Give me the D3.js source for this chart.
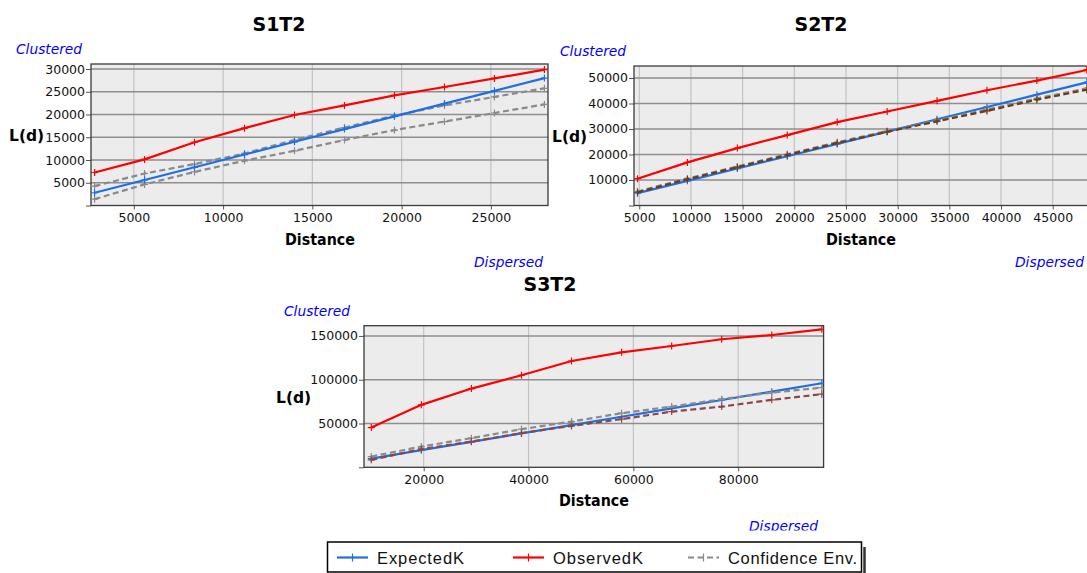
<!DOCTYPE html>
<html>
<head>
<meta charset="utf-8">
<script src="https://cdn.jsdelivr.net/npm/d3@7"></script>
<style>
  body { margin: 0; background: #fff; }
  svg { display: block; font-family: "DejaVu Sans", Verdana, sans-serif; }
</style>
</head>
<body>
<svg id="chart" width="1087" height="573"></svg>
<script>
// S1T2
const s1Distance = [2800, 5600, 8400, 11200, 14000, 16800, 19600, 22400, 25200, 28000];
const s1Expected = [2800, 5600, 8400, 11200, 14000, 16800, 19600, 22400, 25200, 28000];
const s1Observed = [7250, 10130, 13900, 17000, 19900, 22000, 24200, 26040, 27930, 29880];
const s1Upper = [4270, 7030, 9110, 11440, 14400, 17140, 19750, 22000, 23870, 25760];
const s1Lower = [1390, 4640, 7380, 9850, 12020, 14400, 16580, 18450, 20330, 22220];
const s1XTicks = [5000, 10000, 15000, 20000, 25000];
const s1YTicks = [0, 5000, 10000, 15000, 20000, 25000, 30000];

// S2T2
const s2Distance = [4830, 9660, 14490, 19320, 24150, 28980, 33810, 38640, 43470, 48300];
const s2Expected = [4830, 9660, 14490, 19320, 24150, 28980, 33810, 38640, 43470, 48300];
const s2Observed = [10520, 16900, 22500, 27600, 32700, 36840, 41030, 45200, 48970, 53150];
const s2Upper = [5500, 10600, 15300, 20100, 24800, 29200, 33400, 37600, 42000, 45900];
const s2Lower = [5200, 10300, 15000, 19800, 24500, 28900, 33000, 37100, 41500, 45400];
const s2XTicks = [5000, 10000, 15000, 20000, 25000, 30000, 35000, 40000, 45000];
const s2YTicks = [0, 10000, 20000, 30000, 40000, 50000];

// S3T2
const s3Distance = [10000, 19550, 29100, 38650, 48200, 57750, 67300, 76850, 86400, 95950];
const s3Expected = [10000, 19550, 29100, 38650, 48200, 57750, 67300, 76850, 86400, 95950];
const s3Observed = [45400, 71300, 89900, 105100, 121400, 131300, 138500, 146200, 151100, 157600];
const s3Upper = [12300, 23700, 33300, 43500, 52200, 61800, 69300, 77800, 85300, 91000];
const s3Lower = [8550, 20700, 29400, 39000, 47300, 55000, 63600, 69300, 77000, 83500];
const s3XTicks = [20000, 40000, 60000, 80000];
const s3YTicks = [0, 50000, 100000, 150000];

const legendLabels = ["ExpectedK", "ObservedK", "Confidence Env."];

const BLUE = "#1e6ee6", RED = "#ff0000", GRAY = "#8a8a8a";

const svg = d3.select("#chart");

function drawPanel(p) {
  const g = svg.append("g");
  const x = d3.scaleLinear().domain(p.xDomain).range([p.left, p.right]);
  const y = d3.scaleLinear().domain(p.yDomain).range([p.bottom, p.top]);

  const clipId = "clip-" + p.title;
  g.append("clipPath").attr("id", clipId)
    .append("rect").attr("x", p.left).attr("y", p.top)
    .attr("width", p.right - p.left).attr("height", p.bottom - p.top);

  g.append("rect")
    .attr("x", p.left).attr("y", p.top)
    .attr("width", p.right - p.left).attr("height", p.bottom - p.top)
    .attr("fill", "#ececec");

  // vertical grid
  g.selectAll(".vgrid").data(p.xTicks).enter().append("line")
    .attr("x1", d => x(d)).attr("x2", d => x(d))
    .attr("y1", p.top).attr("y2", p.bottom)
    .attr("stroke", "#c3c3c3").attr("stroke-width", 1.2);

  // horizontal grid
  g.selectAll(".hgrid").data(p.yTicks.filter(d => d > 0)).enter().append("line")
    .attr("x1", p.left).attr("x2", p.right)
    .attr("y1", d => y(d)).attr("y2", d => y(d))
    .attr("stroke", "#8e8e8e").attr("stroke-width", 1.4);

  // axes
  g.append("g")
    .attr("transform", "translate(" + p.left + ",0)")
    .call(d3.axisLeft(y).tickValues(p.yTicks).tickSize(5).tickPadding(1)
      .tickFormat(d => d === 0 ? "" : d3.format("d")(d)))
    .call(a => a.select(".domain").remove())
    .call(a => a.selectAll("line").attr("stroke", "#555"))
    .call(a => a.selectAll("text").attr("font-size", 12.5).attr("fill", "#111")
      .attr("font-family", "DejaVu Sans"));

  g.append("g")
    .attr("transform", "translate(0," + p.bottom + ")")
    .call(d3.axisBottom(x).tickValues(p.xTicks).tickSize(4).tickPadding(4)
      .tickFormat(d3.format("d")))
    .call(a => a.select(".domain").remove())
    .call(a => a.selectAll("line").attr("stroke", "#555"))
    .call(a => a.selectAll("text").attr("font-size", 12.5).attr("fill", "#111")
      .attr("font-family", "DejaVu Sans"));

  // border
  g.append("rect")
    .attr("x", p.left).attr("y", p.top)
    .attr("width", p.right - p.left).attr("height", p.bottom - p.top)
    .attr("fill", "none").attr("stroke", "#3a3a3a").attr("stroke-width", 1.3);

  const plot = g.append("g").attr("clip-path", "url(#" + clipId + ")");
  const line = d3.line().x(d => x(d[0])).y(d => y(d[1]));

  p.series.forEach(s => {
    const pts = p.distance.map((d, i) => [d, s.values[i]]);
    plot.append("path").datum(pts)
      .attr("d", line).attr("fill", "none")
      .attr("stroke", s.color).attr("stroke-width", 2.2)
      .attr("stroke-dasharray", s.dash ? "6,3.5" : null);
    plot.selectAll(null).data(pts).enter().append("path")
      .attr("d", d => "M" + (x(d[0]) - 3.5) + "," + y(d[1]) + "h7M" + x(d[0]) + "," + (y(d[1]) - 3.5) + "v7")
      .attr("stroke", s.color).attr("stroke-width", 1.2);
  });

  g.append("text").attr("x", p.titleX).attr("y", p.titleY)
    .attr("text-anchor", "middle").attr("font-weight", "bold").attr("font-size", 19)
    .text(p.title);

  g.append("text").attr("x", p.clusterX).attr("y", p.top - 10)
    .attr("font-style", "italic").attr("font-size", 14.5).attr("fill", "#0000ff")
    .attr("textLength", 66).attr("lengthAdjust", "spacingAndGlyphs")
    .text("Clustered");

  g.append("text").attr("x", p.ldX).attr("y", (p.top + p.bottom) / 2 + 6)
    .attr("font-weight", "bold").attr("font-size", 15.5)
    .text("L(d)");

  g.append("text").attr("x", p.distX).attr("y", p.bottom + 39)
    .attr("text-anchor", "middle").attr("font-weight", "bold").attr("font-size", 15)
    .attr("textLength", 70).attr("lengthAdjust", "spacingAndGlyphs")
    .text("Distance");

  const disp = g.append("text").attr("x", p.dispX).attr("y", p.bottom + (p.dispDy || 61))
    .attr("text-anchor", "end").attr("font-style", "italic").attr("font-size", 14.5)
    .attr("fill", "#0000ff")
    .attr("textLength", 69).attr("lengthAdjust", "spacingAndGlyphs")
    .text("Dispersed");
  if (p.dispClip) {
    g.append("clipPath").attr("id", clipId + "-d")
      .append("rect").attr("x", 0).attr("y", 0).attr("width", 1087).attr("height", p.dispClip);
    disp.attr("clip-path", "url(#" + clipId + "-d)");
  }
}

drawPanel({
  title: "S1T2", titleX: 279, titleY: 31,
  left: 91, right: 548, top: 64, bottom: 205.5,
  xDomain: [2600, 28200], yDomain: [0, 31100],
  xTicks: s1XTicks, yTicks: s1YTicks, distance: s1Distance,
  clusterX: 16, ldX: 9, distX: 320, dispX: 543,
  series: [
    { values: s1Lower, color: GRAY, dash: true },
    { values: s1Upper, color: GRAY, dash: true },
    { values: s1Expected, color: BLUE },
    { values: s1Observed, color: RED }
  ]
});

drawPanel({
  title: "S2T2", titleX: 821, titleY: 31,
  left: 634, right: 1093, top: 66, bottom: 205.5,
  xDomain: [4490, 48900], yDomain: [0, 54700],
  xTicks: s2XTicks, yTicks: s2YTicks, distance: s2Distance,
  clusterX: 560, ldX: 552, distX: 861, dispX: 1084,
  series: [
    { values: s2Expected, color: BLUE },
    { values: s2Upper, color: GRAY, dash: true },
    { values: s2Lower, color: "#6e3b12", dash: true },
    { values: s2Observed, color: RED }
  ]
});

drawPanel({
  title: "S3T2", titleX: 550, titleY: 291,
  left: 364, right: 823.6, top: 325.7, bottom: 467.3,
  xDomain: [8610, 96290], yDomain: [0, 161700],
  xTicks: s3XTicks, yTicks: s3YTicks, distance: s3Distance,
  clusterX: 284, ldX: 276, distX: 594, dispX: 818, dispDy: 63.5, dispClip: 530.5,
  series: [
    { values: s3Expected, color: BLUE },
    { values: s3Upper, color: GRAY, dash: true },
    { values: s3Lower, color: "#8b4646", dash: true },
    { values: s3Observed, color: RED }
  ]
});

// legend
const legend = svg.append("g").attr("font-family", "Liberation Sans, Arial, sans-serif");
legend.append("rect").attr("x", 327.5).attr("y", 542).attr("width", 534).attr("height", 30)
  .attr("fill", "#fff").attr("stroke", "#000").attr("stroke-width", 1.5);
legend.append("line").attr("x1", 864.5).attr("x2", 864.5).attr("y1", 547).attr("y2", 573)
  .attr("stroke", "#333").attr("stroke-width", 2.5);

const legendItems = [
  { label: legendLabels[0], color: BLUE, x: 337, tx: 377, w: 87 },
  { label: legendLabels[1], color: RED, x: 513, tx: 553, w: 90 },
  { label: legendLabels[2], color: GRAY, x: 688, tx: 728, w: 129, dash: true }
];
legendItems.forEach(it => {
  const ly = 557.5;
  legend.append("line").attr("x1", it.x).attr("x2", it.x + 31).attr("y1", ly).attr("y2", ly)
    .attr("stroke", it.color).attr("stroke-width", 2.2)
    .attr("stroke-dasharray", it.dash ? "6,3.5" : null);
  legend.append("path")
    .attr("d", "M" + (it.x + 15.5) + "," + (ly - 4) + "v8")
    .attr("stroke", it.color).attr("stroke-width", 1.2);
  legend.append("text").attr("x", it.tx).attr("y", 564)
    .attr("font-size", 16.5).attr("fill", "#111")
    .attr("textLength", it.w).attr("lengthAdjust", "spacing")
    .text(it.label);
});
</script>
</body>
</html>
